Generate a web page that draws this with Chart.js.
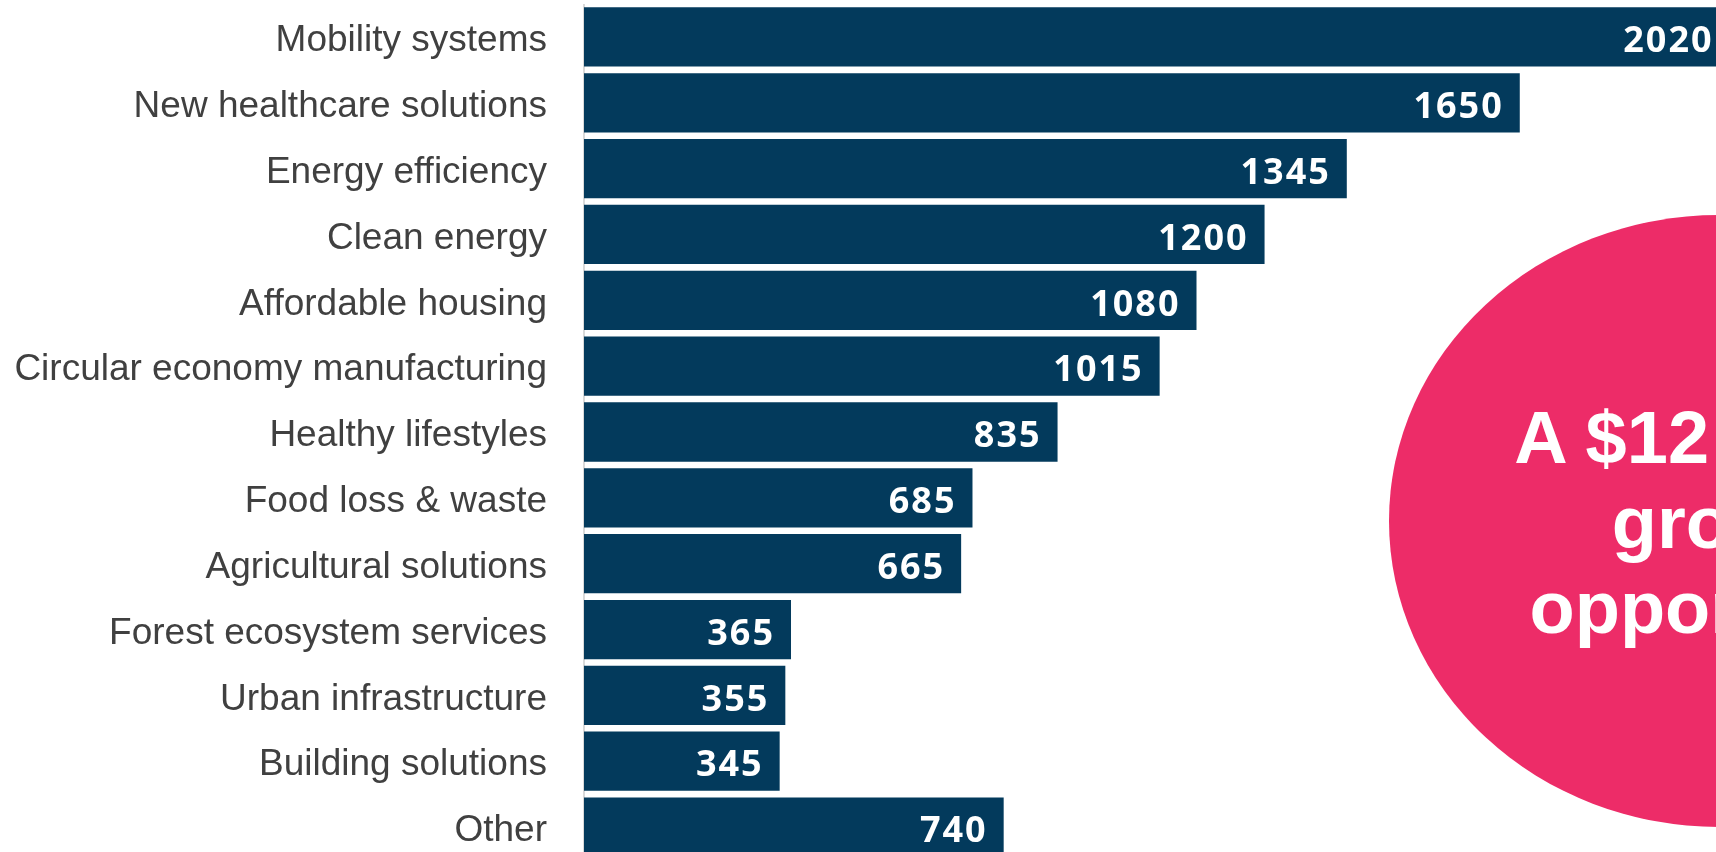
<!DOCTYPE html>
<html>
<head>
<meta charset="utf-8">
<script src="https://cdn.jsdelivr.net/npm/chart.js@4/dist/chart.umd.min.js"></script>
<style>
  html, body { margin: 0; padding: 0; background: #fff; overflow: hidden; }
  #wrap { position: absolute; left: 0; top: 4px; width: 1716px; height: 856px; }
  #bubble {
    position: absolute; left: 1389px; top: 215px; width: 660px; height: 612px;
    border-radius: 50%; background: #ed2c68;
  }
  #bubble-text {
    position: absolute; left: 1435px; top: 395px; width: 600px;
    text-align: center; color: #fff; white-space: nowrap;
    font: bold 74px "Liberation Sans", Arial, sans-serif; line-height: 85px;
  }
</style>
</head>
<body>
<div id="wrap"><canvas id="chart"></canvas></div>
<div id="bubble"></div>
<div id="bubble-text">A $12 trillion<br>growth<br>opportunity</div>
<script>
// categories and values
const categories = [
    'Mobility systems',
    'New healthcare solutions',
    'Energy efficiency',
    'Clean energy',
    'Affordable housing',
    'Circular economy manufacturing',
    'Healthy lifestyles',
    'Food loss & waste',
    'Agricultural solutions',
    'Forest ecosystem services',
    'Urban infrastructure',
    'Building solutions',
    'Other'
];
const values = [2020, 1650, 1345, 1200, 1080, 1015, 835, 685, 665, 365, 355, 345, 740];

// white value labels inside the end of each bar
const valueLabels = {
    id: 'valueLabels',
    afterDatasetsDraw(chart) {
        const ctx = chart.ctx;
        const meta = chart.getDatasetMeta(0);
        ctx.save();
        ctx.fillStyle = '#ffffff';
        ctx.font = 'bold 36px "Open Sans", sans-serif';
        ctx.letterSpacing = '2px';
        ctx.textAlign = 'right';
        ctx.textBaseline = 'middle';
        meta.data.forEach((bar, i) => {
            ctx.fillText(String(values[i]), bar.x - 16, bar.y + 5);
        });
        ctx.restore();
    }
};

new Chart(document.getElementById('chart'), {
    type: 'bar',
    data: {
        labels: categories,
        datasets: [{
            data: values,
            backgroundColor: '#033a5c',
            barPercentage: 0.9,
            categoryPercentage: 1
        }]
    },
    options: {
        indexAxis: 'y',
        responsive: true,
        maintainAspectRatio: false,
        animation: false,
        layout: { padding: 0 },
        plugins: {
            legend: { display: false },
            tooltip: { enabled: false }
        },
        scales: {
            x: {
                min: 0,
                max: 1996,
                display: false
            },
            y: {
                grid: { display: false, drawTicks: false },
                border: { display: true, color: '#d9d9d9', width: 2 },
                ticks: {
                    color: '#404040',
                    padding: 37,
                    labelOffset: 4,
                    font: { family: '"Liberation Sans", Arial, sans-serif', size: 37 }
                },
                afterFit(scale) {
                    // fixed label column, no extra top/bottom padding
                    scale.width = 584;
                    scale.paddingTop = 0;
                    scale.paddingBottom = 0;
                }
            }
        }
    },
    plugins: [valueLabels]
});
</script>
</body>
</html>
